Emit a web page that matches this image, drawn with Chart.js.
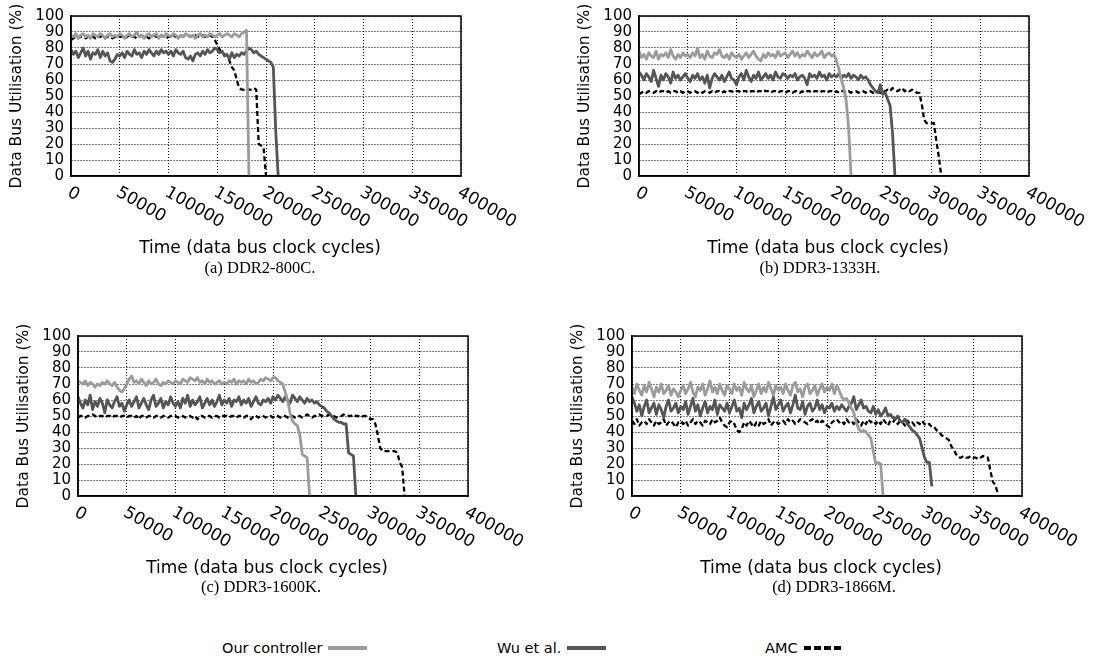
<!DOCTYPE html>
<html>
<head>
<meta charset="utf-8">
<script src="https://cdn.jsdelivr.net/npm/chart.js@4.4.1/dist/chart.umd.min.js"></script>
<style>
  body { margin: 0; background: #fff; }
  #fig { position: relative; width: 1094px; height: 662px; overflow: hidden; font-family: "DejaVu Sans", sans-serif; color: #000; }
  #fig canvas { position: absolute; }
  .cap { position: absolute; font-family: "Liberation Serif", serif; font-size: 16.5px; line-height: 20px; transform: translateX(-50%); white-space: nowrap; }
  .leg { position: absolute; top: 639px; font-size: 14.5px; line-height: 18px; display: flex; align-items: center; white-space: nowrap; }
  .sw { display: inline-block; width: 39px; height: 4px; margin-left: 6px; }
</style>
</head>
<body>
<div id="fig">
  <canvas id="pa" width="526" height="300" style="left:0px;top:0px"></canvas>
  <canvas id="pb" width="526" height="300" style="left:568px;top:0px"></canvas>
  <canvas id="pc" width="526" height="300" style="left:7px;top:320px"></canvas>
  <canvas id="pd" width="526" height="300" style="left:561px;top:320px"></canvas>
  <div class="cap" style="left:260px;top:258px">(a) DDR2-800C.</div>
  <div class="cap" style="left:820px;top:258px">(b) DDR3-1333H.</div>
  <div class="cap" style="left:261px;top:577px">(c) DDR3-1600K.</div>
  <div class="cap" style="left:834px;top:577px">(d) DDR3-1866M.</div>
  <div class="leg" style="left:222px">Our controller<span class="sw" style="background:#9b9b9b"></span></div>
  <div class="leg" style="left:497px">Wu et al.<span class="sw" style="background:#555"></span></div>
  <div class="leg" style="left:765px">AMC<span class="sw" style="background:repeating-linear-gradient(90deg,#000 0 7px,transparent 7px 10px)"></span></div>
</div>
<script>
// utilisation sampled every STEP data bus clock cycles, starting at cycle 0
const STEP = 2500;
const seriesNames = ['Our controller', 'Wu et al.', 'AMC'];

// (a) DDR2-800C
const aOurs = [88,87,89,86,88,89,87,88,86,89,88,87,89,88,86,88,89,87,88,87,89,
  88,86,88,89,87,88,90,87,88,86,88,89,87,88,89,86,88,87,89,88,
  87,89,88,86,88,87,89,88,87,88,86,88,89,87,88,87,89,88,87,88,
  89,87,88,89,88,87,89,88,87,89,90,91,
  0];
const aWu = [79,76,78,74,77,80,75,78,73,77,76,79,74,78,75,77,72,71,73,76,75,
  77,74,78,76,75,79,76,77,74,78,76,79,77,75,78,76,79,77,78,76,
  78,75,79,77,76,78,74,73,75,72,76,77,75,78,76,79,77,78,80,79,
  77,78,75,76,73,77,74,76,75,77,76,78,80,79,77,78,76,75,74,73,
  72,71,68,28,0];
const aAmc = [85,86,87,86,87,87,86,87,88,87,86,87,87,88,86,87,87,86,87,88,87,
  87,86,87,88,87,87,86,87,88,87,87,86,87,88,87,87,88,87,86,87,
  87,88,87,87,88,87,88,88,87,88,88,87,88,88,87,88,88,87,
  85,82,79,77,76,75,72,68,66,60,55,54,54,55,54,54,55,54,20,19,18,0];

// (b) DDR3-1333H
const bOurs = [78,74,76,73,77,75,74,78,73,76,75,77,74,79,75,73,76,74,77,75,76,
  74,77,75,80,74,76,73,78,75,74,77,76,79,75,74,76,73,77,75,74,
  76,73,75,77,74,76,78,75,73,72,76,74,77,75,76,74,78,75,76,77,
  74,76,78,75,77,74,76,75,78,76,74,77,75,76,78,74,76,77,75,76,
  72,67,60,55,47,30,0];
const bWu = [65,63,60,64,62,59,66,61,56,63,60,64,62,58,65,61,63,60,62,64,61,
  59,63,61,64,60,62,58,63,55,61,64,62,60,63,59,62,65,61,60,57,
  62,64,60,66,62,59,63,61,65,60,62,64,61,63,60,65,62,61,64,63,
  61,63,62,64,60,62,63,61,57,64,62,63,61,65,62,63,60,64,62,63,
  62,64,61,63,62,64,61,63,62,60,63,61,62,60,
  57,55,53,52,57,51,52,48,44,27,0];
const bAmc = [51,52,53,52,53,53,52,53,52,53,53,52,53,52,53,53,52,53,52,53,53,
  52,53,53,52,53,52,53,53,52,53,52,53,53,52,53,52,53,53,52,53,
  53,52,53,53,52,53,53,52,53,53,54,53,53,52,53,53,52,53,53,52,
  53,53,52,53,53,52,53,52,53,53,52,53,53,52,53,53,52,53,53,52,
  53,52,53,53,52,53,52,53,53,52,53,53,52,53,53,52,53,53,52,53,
  53,54,53,55,54,53,54,55,53,54,53,54,53,52,52,
  45,35,33,33,33,33,22,12,0];

// (c) DDR3-1600K
const cOurs = [72,71,70,72,69,71,70,68,70,69,71,70,72,70,69,71,68,66,65,67,70,
  73,75,71,72,70,73,71,69,72,70,71,73,70,69,71,70,72,71,70,72,
  71,70,73,72,71,74,73,72,74,71,72,70,73,71,72,70,71,72,70,71,
  70,72,71,73,70,72,71,72,70,73,71,72,70,71,73,72,74,73,72,74,
  74,72,71,70,65,60,52,47,45,44,38,26,25,24,0];
const cWu = [62,58,55,60,57,63,54,59,56,61,58,52,60,57,55,59,62,56,58,53,57,
  60,56,59,62,55,58,61,57,54,60,63,56,58,61,55,59,57,62,58,56,
  59,55,61,58,63,56,60,57,59,62,55,58,61,57,60,56,59,63,57,60,
  58,61,56,60,59,62,57,60,58,61,56,59,62,58,57,60,59,61,58,62,
  60,63,61,59,62,60,58,63,61,59,62,60,58,61,59,60,58,59,57,56,
  55,53,52,50,48,47,46,46,45,45,27,26,25,0];
const cAmc = [49,50,50,49,50,50,51,50,49,50,50,49,50,50,49,50,50,49,50,50,49,
  50,50,49,50,48,50,50,49,50,50,49,50,50,49,50,50,49,50,50,50,
  49,50,50,49,50,50,49,50,48,50,50,49,50,50,49,50,50,49,50,50,
  50,49,50,50,49,50,50,49,50,50,48,50,50,49,50,50,49,50,50,49,
  50,50,49,50,50,49,50,50,49,50,50,49,50,51,50,49,50,50,51,50,
  50,50,51,50,50,49,50,50,51,50,50,50,51,50,50,49,50,50,49,48,
  48,45,38,30,28,28,28,28,28,28,27,21,18,0];

// (d) DDR3-1866M
const dOurs = [68,64,70,66,63,69,65,71,67,62,68,65,70,64,66,69,63,67,65,62,66,
  69,64,67,71,65,62,68,66,70,63,67,72,65,68,64,70,66,63,69,67,
  64,70,66,68,63,71,67,65,69,62,66,70,64,68,65,71,67,63,69,66,
  68,64,70,66,63,69,71,65,67,62,68,70,64,66,69,63,67,70,65,68,
  66,70,64,69,66,62,60,61,58,55,52,46,42,40,41,40,38,36,28,20,21,20,0];
const dWu = [62,58,53,57,50,56,60,52,55,58,51,57,54,49,56,60,53,55,58,52,56,
  54,59,51,56,61,53,57,50,55,59,52,56,54,60,51,57,55,53,58,52,
  56,60,53,55,49,58,54,57,61,52,56,59,53,55,58,50,56,62,54,57,
  60,53,56,58,52,57,63,55,54,59,51,56,58,53,55,60,54,57,52,56,
  55,58,53,56,54,57,55,53,56,58,62,54,57,60,55,56,53,52,56,51,54,50,52,
  55,50,51,49,48,50,47,46,48,45,43,41,40,38,36,30,24,21,21,6];
const dAmc = [47,45,48,44,46,47,45,48,46,44,47,45,46,48,44,46,47,45,43,46,47,
  45,47,44,46,48,45,47,46,44,47,46,45,48,46,47,49,46,44,43,46,
  47,45,41,40,42,46,44,47,45,43,46,44,47,45,46,48,44,46,47,45,
  46,47,45,48,46,47,45,46,48,47,46,45,47,48,46,47,45,47,46,44,
  43,46,47,48,46,47,45,48,46,47,45,48,46,44,47,45,48,46,47,45,
  47,45,48,46,44,47,46,48,45,47,46,44,47,45,46,44,46,45,47,45,
  44,45,43,43,41,40,38,37,36,35,31,29,26,24,
  24,25,24,24,25,24,24,23,24,25,24,24,
  16,9,7,2];

const panels = [
  { canvas: 'pa', series: [aOurs, aWu, aAmc] },
  { canvas: 'pb', series: [bOurs, bWu, bAmc] },
  { canvas: 'pc', series: [cOurs, cWu, cAmc] },
  { canvas: 'pd', series: [dOurs, dWu, dAmc] }
];

const lineStyles = [
  { borderColor: '#9b9b9b', borderWidth: 2.8, borderDash: [] },
  { borderColor: '#555555', borderWidth: 2.8, borderDash: [] },
  { borderColor: '#000000', borderWidth: 2.3, borderDash: [5, 3] }
];

function toPoints(values) {
  return values.map((v, i) => ({ x: i * STEP, y: v }));
}

// frame box, slanted x tick labels and x axis title
const framePlugin = {
  id: 'framePlugin',
  afterDraw(chart) {
    const { ctx, chartArea: area, scales: { x } } = chart;
    ctx.save();
    ctx.strokeStyle = '#000';
    ctx.lineWidth = 1.5;
    ctx.strokeRect(area.left, area.top, area.right - area.left, area.bottom - area.top);

    ctx.fillStyle = '#000';
    ctx.font = '17px "DejaVu Sans"';
    ctx.textAlign = 'left';
    ctx.textBaseline = 'top';
    x.ticks.forEach(t => {
      ctx.save();
      ctx.translate(x.getPixelForValue(t.value) + 2, area.bottom + 8);
      ctx.rotate(Math.PI / 6);
      ctx.fillText(String(t.value), 0, 0);
      ctx.restore();
    });

    ctx.font = '17px "DejaVu Sans"';
    ctx.textAlign = 'center';
    ctx.textBaseline = 'middle';
    ctx.fillText('Time (data bus clock cycles)', (area.left + area.right) / 2 - 6, area.bottom + 73);
    ctx.restore();
  }
};

panels.forEach(p => {
  const ctx = document.getElementById(p.canvas).getContext('2d');
  new Chart(ctx, {
    type: 'line',
    data: {
      datasets: p.series.map((s, i) => Object.assign({
        label: seriesNames[i],
        data: toPoints(s),
        pointRadius: 0,
        tension: 0,
        fill: false,
        borderJoinStyle: 'round'
      }, lineStyles[i]))
    },
    options: {
      responsive: false,
      animation: false,
      events: [],
      layout: { padding: { left: 8, top: 16, right: 65, bottom: 0 } },
      plugins: { legend: { display: false }, tooltip: { enabled: false } },
      scales: {
        x: {
          type: 'linear',
          min: 0,
          max: 400000,
          afterFit: s => { s.height = 124; },
          ticks: { display: false, stepSize: 50000 },
          grid: { color: '#000', lineWidth: 1, drawTicks: false },
          border: { color: '#000', width: 1.5, dash: [1, 2] }
        },
        y: {
          min: 0,
          max: 100,
          afterFit: s => { s.width = 63; },
          ticks: { stepSize: 10, autoSkip: false, color: '#000', padding: 7, font: { family: 'DejaVu Sans', size: 15 } },
          grid: { color: '#000', lineWidth: 1, drawTicks: false },
          border: { color: '#000', width: 1.5, dash: [1, 2] },
          title: {
            display: true,
            text: 'Data Bus Utilisation (%)',
            color: '#000',
            padding: 0,
            font: { family: 'DejaVu Sans', size: 15.5 }
          }
        }
      }
    },
    plugins: [framePlugin]
  });
});
</script>
</body>
</html>
